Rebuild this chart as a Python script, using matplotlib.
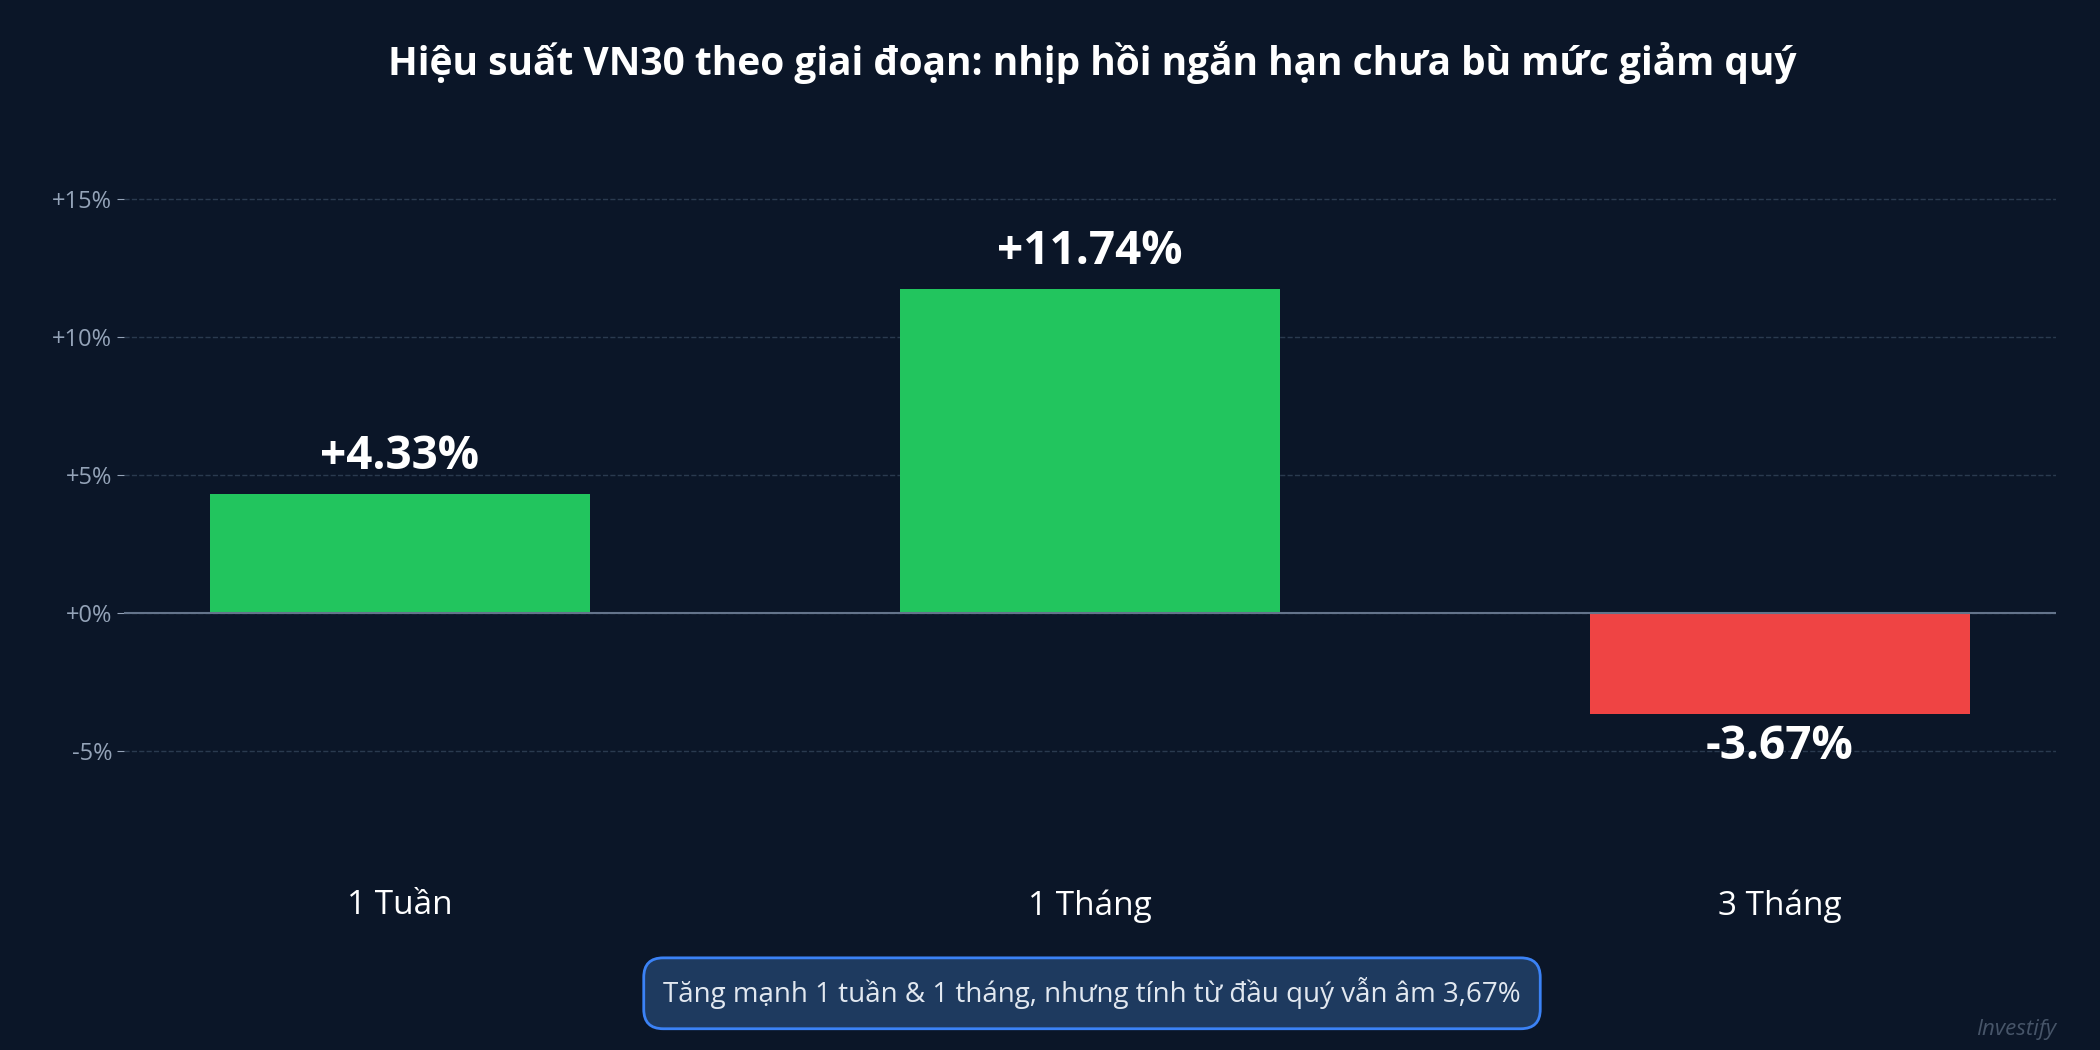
import matplotlib.pyplot as plt

plt.rcParams['font.family'] = ['Open Sans', 'Noto Sans', 'DejaVu Sans']

periods = ['1 Tuần', '1 Tháng', '3 Tháng']
returns = [4.33, 11.74, -3.67]
yticks = [-5, 0, 5, 10, 15]

bg = '#0b1628'
fig = plt.figure(figsize=(21, 10.5), dpi=100, facecolor=bg)
ax = fig.add_axes([0.059, 0.219, 0.92, 0.657], facecolor=bg)

colors = ['#22c55e' if v >= 0 else '#ef4444' for v in returns]
x = range(len(periods))
ax.bar(x, returns, width=0.55, color=colors, zorder=3)

for i, v in enumerate(returns):
    if v >= 0:
        ax.text(i, v + 0.5, f'+{v:.2f}%', ha='center', va='bottom',
                color='white', fontsize=33, fontweight='bold', zorder=4)
    else:
        ax.text(i, v - 0.3, f'{v:.2f}%', ha='center', va='top',
                color='white', fontsize=33, fontweight='bold', zorder=4)

ax.axhline(0, color='#64748b', lw=1.5, zorder=4)
ax.set_xlim(-0.40, 2.40)
ax.set_ylim(-7.5, 17.5)
ax.set_yticks(yticks)
ax.set_yticklabels([f'{t:+d}%' if t != 0 else '+0%' for t in yticks])
ax.grid(axis='y', color='#2a3a4f', ls='--', lw=1, zorder=0)
ax.set_xticks(list(x))
ax.set_xticklabels(periods)
ax.tick_params(axis='x', length=0, pad=50, labelsize=24, labelcolor='white')
ax.tick_params(axis='y', colors='#94a3b8', labelsize=17, length=5)
for s in ax.spines.values():
    s.set_visible(False)

fig.text(0.52, 0.94, 'Hiệu suất VN30 theo giai đoạn: nhịp hồi ngắn hạn chưa bù mức giảm quý',
         ha='center', va='center', color='white', fontsize=28, fontweight='bold')
fig.text(0.52, 0.054, 'Tăng mạnh 1 tuần & 1 tháng, nhưng tính từ đầu quý vẫn âm 3,67%',
         ha='center', va='center', color='#e2e8f0', fontsize=20,
         bbox=dict(boxstyle='round,pad=0.7', fc='#1e3a5f', ec='#3b82f6', lw=2))
fig.text(0.979, 0.02, 'Investify', ha='right', va='center', color='#475569',
         fontsize=16, style='italic')

fig.savefig('out.png', facecolor=bg)
